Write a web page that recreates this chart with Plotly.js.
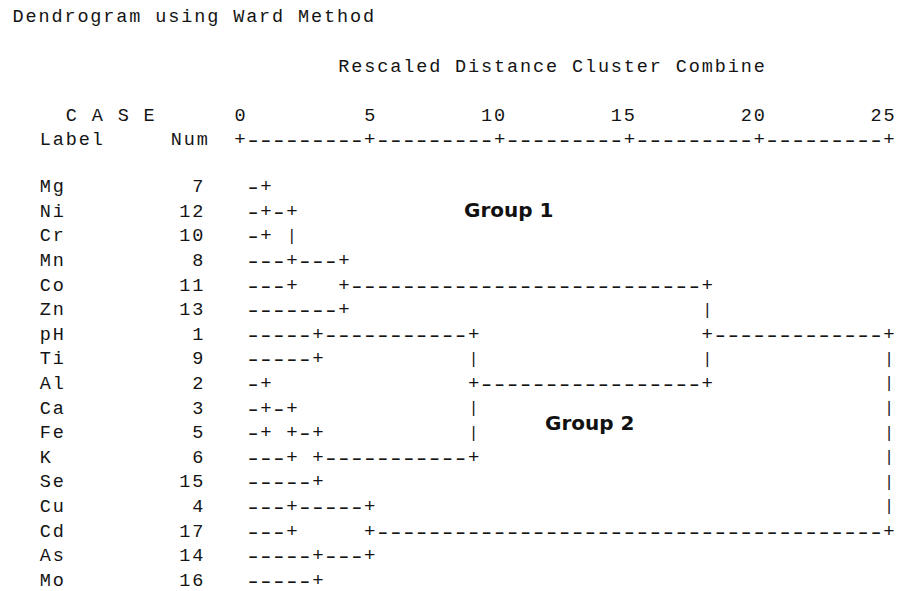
<!DOCTYPE html>
<html><head><meta charset="utf-8">
<script src="https://cdn.plot.ly/plotly-3.0.1.min.js"></script>
<style>html,body{margin:0;padding:0;background:#fff}</style>
</head><body><div id="chart" style="width:903px;height:591px"></div>
<script>
// ---------- data ----------
const caseLabels = ['Mg','Ni','Cr','Mn','Co','Zn','pH','Ti','Al','Ca','Fe','K','Se','Cu','Cd','As','Mo'];
const caseNums   = [7,12,10,8,11,13,1,9,2,3,5,6,15,4,17,14,16];
const tickValues = [0,5,10,15,20,25];
const tickLabels = ['0','5','10','15','20','25'];
// agglomeration steps: cluster name, members joined, rescaled distance, case whose row carries the joined line on
const mergeNames    = ['A1','A2','G1','P1','B1','B2','B3','G2','C1','C2','C3','G12','ROOT'];
const mergeChildren = [['Mg','Ni','Cr'],['A1','Mn','Co'],['A2','Zn'],['pH','Ti'],['Al','Ca','Fe'],['B1','K'],['B2','Se'],['P1','B3'],['Cu','Cd'],['As','Mo'],['C1','C2'],['G1','G2'],['G12','C3']];
const mergeDist     = [1,2,4,3,1,2,3,9,2,3,5,18,25];
const mergeOutCase  = ['Ni','Mn','Co','pH','Ca','Fe','K','Al','Cu','As','Cd','pH',null];
const titleText = 'Dendrogram using Ward Method';
const subTitle  = 'Rescaled Distance Cluster Combine';

// ---------- build character grid (2 columns per distance unit) ----------
const CPU = 2;
const cells = {};
function put(r,c,ch,force){const k=r+'|'+c; if(force||!(k in cells)) cells[k]={r:r,c:c,ch:ch};}
const info = {};
caseLabels.forEach((l,i)=>{info[l]={row:i,col:0,leaf:true};});
mergeNames.forEach((name,m)=>{
  const mc = mergeDist[m]*CPU;
  const rows=[];
  mergeChildren[m].forEach(ch=>{
    const ci=info[ch];
    const start = ci.leaf?1:ci.col+1;
    for(let c=start;c<mc;c++) put(ci.row,c,'-',true);
    put(ci.row,mc,'+',true);
    rows.push(ci.row);
  });
  const r0=Math.min(...rows), r1=Math.max(...rows);
  for(let r=r0;r<=r1;r++) put(r,mc,'|',false);
  let outRow=null;
  if(mergeOutCase[m]!==null){outRow=caseLabels.indexOf(mergeOutCase[m]); put(outRow,mc,'+',true);}
  info[name]={row:outRow,col:mc,leaf:false};
});

// ---------- text placement ----------
const T={txt:{x:[],y:[],t:[]},dash:{x:[],y:[],t:[]},plus:{x:[],y:[],t:[]},bar:{x:[],y:[],t:[]}};
function add(ch,col,row){
  const g = ch==='-'?T.dash : ch==='+'?T.plus : ch==='|'?T.bar : T.txt;
  g.x.push(col/CPU); g.y.push(row); g.t.push(ch==='-'?'\u2013':ch);
}
function putText(str,col0,row){ for(let i=0;i<str.length;i++){ if(str[i]!==' ') add(str[i],col0+i,row); } }
Object.values(cells).forEach(o=>add(o.ch,o.c,o.r));

const ROW_TITLE=-6.9, ROW_SUB=-4.87, ROW_TICK=-2.88, ROW_HEAD=-1.91;
putText(titleText,-17.1,ROW_TITLE);
putText(subTitle,8,ROW_SUB);
putText('C A S E',-13,ROW_TICK);
putText('Label',-15,ROW_HEAD);
putText('Num',-4.9,ROW_HEAD);
tickValues.forEach((v,i)=>{ const s=tickLabels[i]; putText(s, v*CPU-(s.length-1), ROW_TICK); });
const tmax=tickValues[tickValues.length-1]*CPU;
for(let c=0;c<=tmax;c++){ const isTick=tickValues.some(v=>v*CPU===c); add(isTick?'+':'-',c,ROW_HEAD); }
caseLabels.forEach((l,i)=>{
  putText(l,-15,i);
  const s=String(caseNums[i]); putText(s,-3.25-(s.length-1),i);
});

const FAM='Liberation Mono, monospace', COL='#141414';
function tr(g,size,weight,dy){
  return {type:'scatter',mode:'text',x:g.x,y:g.y.map(v=>v+(dy||0)),text:g.t,textposition:'middle center',
    textfont:{family:FAM,size:size,color:COL,weight:weight||'normal'},hoverinfo:'skip',showlegend:false,cliponaxis:false};
}
const traces=[tr(T.txt,18.5),tr(T.dash,17,'bold',0.02),tr(T.plus,19),tr(T.bar,16)];
const PX=25.96, X0=240, W=903, H=591, Y0=187.5, RH=24.6;
const layout={
  width:W,height:H,margin:{l:0,r:0,t:0,b:0},paper_bgcolor:'#fff',plot_bgcolor:'#fff',
  xaxis:{range:[-X0/PX,(W-X0)/PX],visible:false,fixedrange:true},
  yaxis:{range:[(H-Y0)/RH,-Y0/RH],visible:false,fixedrange:true},
  showlegend:false,
  annotations:[
    {x:10.36,y:0.91,xref:'x',yref:'y',text:'<b>Group 1</b>',showarrow:false,font:{family:'DejaVu Sans, Verdana, sans-serif',size:20,color:'#111'}},
    {x:13.48,y:9.56,xref:'x',yref:'y',text:'<b>Group 2</b>',showarrow:false,font:{family:'DejaVu Sans, Verdana, sans-serif',size:20,color:'#111'}}
  ]
};
Plotly.newPlot('chart',traces,layout,{displayModeBar:false,staticPlot:true});
</script></body></html>
